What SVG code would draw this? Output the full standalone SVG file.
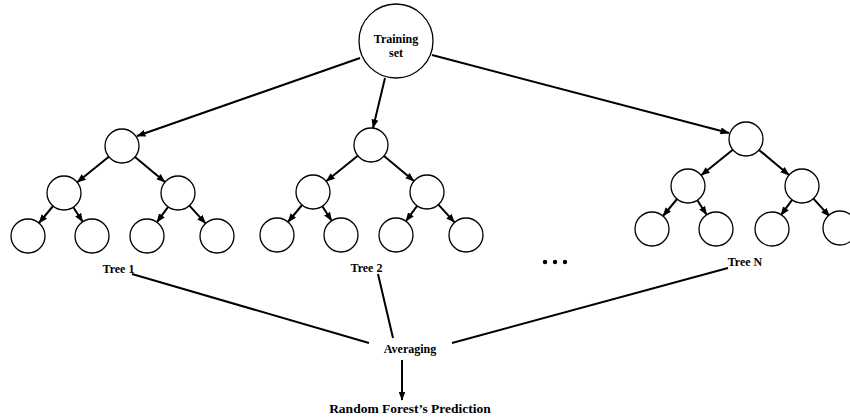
<svg xmlns="http://www.w3.org/2000/svg" xmlns:xlink="http://www.w3.org/1999/xlink" width="850" height="420" viewBox="0 0 850 420">
<style>
.n{fill:#fff;stroke:#000;stroke-width:1.3}
.e{stroke:#000;stroke-width:2;fill:none}
.a{marker-end:url(#ah)}
.t{font-family:"Liberation Serif","Times New Roman",serif;font-weight:bold;font-size:12px;fill:#000;text-anchor:middle}
</style>
<defs>
<marker id="ah" viewBox="0 0 9 7" refX="8.5" refY="3.5" markerWidth="9" markerHeight="7" markerUnits="userSpaceOnUse" orient="auto">
<path d="M0,0 L9,3.5 L0,7 z" fill="#000"/>
</marker>
</defs>
<rect width="850" height="420" fill="#fff"/>

<g id="connectors">
<line class="e a" x1="360" y1="58" x2="137" y2="136"/>
<line class="e a" x1="385" y1="78" x2="373" y2="128"/>
<line class="e a" x1="432" y1="55" x2="729" y2="133"/>
<g transform="translate(122,146)">
<line class="e a" x1="-13.2" y1="10.7" x2="-44.8" y2="36.3"/>
<line class="e a" x1="13" y1="10.9" x2="43" y2="36.1"/>
<line class="e a" x1="-68.9" y1="60" x2="-83.1" y2="77"/>
<line class="e a" x1="-48.7" y1="61.2" x2="-39.3" y2="75.8"/>
<line class="e a" x1="46.1" y1="60.8" x2="34.9" y2="76.2"/>
<line class="e a" x1="67.4" y1="59.6" x2="83.6" y2="77.4"/>
</g>
<g transform="translate(371,145)">
<line class="e a" x1="-13.2" y1="10.7" x2="-44.8" y2="36.3"/>
<line class="e a" x1="13" y1="10.9" x2="43" y2="36.1"/>
<line class="e a" x1="-68.9" y1="60" x2="-83.1" y2="77"/>
<line class="e a" x1="-48.7" y1="61.2" x2="-39.3" y2="75.8"/>
<line class="e a" x1="46.1" y1="60.8" x2="34.9" y2="76.2"/>
<line class="e a" x1="67.4" y1="59.6" x2="83.6" y2="77.4"/>
</g>
<g transform="translate(746,139)">
<line class="e a" x1="-13.2" y1="10.7" x2="-44.8" y2="36.3"/>
<line class="e a" x1="13" y1="10.9" x2="43" y2="36.1"/>
<line class="e a" x1="-68.9" y1="60" x2="-83.1" y2="77"/>
<line class="e a" x1="-48.7" y1="61.2" x2="-39.3" y2="75.8"/>
<line class="e a" x1="46.1" y1="60.8" x2="34.9" y2="76.2"/>
<line class="e a" x1="67.4" y1="59.6" x2="83.6" y2="77.4"/>
</g>
<line class="e" x1="132" y1="274" x2="369" y2="343"/>
<line class="e" x1="378" y1="274" x2="393" y2="338"/>
<line class="e" x1="728" y1="268" x2="452" y2="343"/>
<line class="e a" x1="402" y1="360" x2="402" y2="400"/>
</g>

<g id="training">
<circle class="n" cx="396" cy="41" r="37"/>
<text class="t" x="396" y="43">Training</text>
<text class="t" x="396" y="57">set</text>
</g>

<g id="tree1" transform="translate(122,146)">
<g id="t1-root"><circle class="n" cx="0" cy="0" r="17"/></g>
<g id="t1-l"><circle class="n" cx="-58" cy="47" r="17"/></g>
<g id="t1-r"><circle class="n" cx="56" cy="47" r="17"/></g>
<g id="t1-ll"><circle class="n" cx="-94" cy="90" r="17"/></g>
<g id="t1-lr"><circle class="n" cx="-30" cy="90" r="17"/></g>
<g id="t1-rl"><circle class="n" cx="25" cy="90" r="17"/></g>
<g id="t1-rr"><circle class="n" cx="95" cy="90" r="17"/></g>
</g>
<g id="tree2" transform="translate(371,145)">
<g id="t2-root"><circle class="n" cx="0" cy="0" r="17"/></g>
<g id="t2-l"><circle class="n" cx="-58" cy="47" r="17"/></g>
<g id="t2-r"><circle class="n" cx="56" cy="47" r="17"/></g>
<g id="t2-ll"><circle class="n" cx="-94" cy="90" r="17"/></g>
<g id="t2-lr"><circle class="n" cx="-30" cy="90" r="17"/></g>
<g id="t2-rl"><circle class="n" cx="25" cy="90" r="17"/></g>
<g id="t2-rr"><circle class="n" cx="95" cy="90" r="17"/></g>
</g>
<g id="treeN" transform="translate(746,139)">
<g id="tN-root"><circle class="n" cx="0" cy="0" r="17"/></g>
<g id="tN-l"><circle class="n" cx="-58" cy="47" r="17"/></g>
<g id="tN-r"><circle class="n" cx="56" cy="47" r="17"/></g>
<g id="tN-ll"><circle class="n" cx="-94" cy="90" r="17"/></g>
<g id="tN-lr"><circle class="n" cx="-30" cy="90" r="17"/></g>
<g id="tN-rl"><circle class="n" cx="26" cy="90" r="17"/></g>
<g id="tN-rr"><circle class="n" cx="94" cy="89" r="17"/></g>
</g>

<g id="label-tree1"><text class="t" x="118.5" y="273">Tree 1</text></g>
<g id="label-tree2"><text class="t" x="366.5" y="272">Tree 2</text></g>
<g id="label-treeN"><text class="t" x="745" y="266">Tree N</text></g>
<g id="dots">
<circle cx="545" cy="262" r="2.2" fill="#000"/>
<circle cx="555" cy="262" r="2.2" fill="#000"/>
<circle cx="565" cy="262" r="2.2" fill="#000"/>
</g>
<g id="averaging"><text class="t" x="410" y="353">Averaging</text></g>
<g id="prediction"><text class="t" x="410" y="413" style="font-size:13.5px">Random Forest’s Prediction</text></g>
</svg>
